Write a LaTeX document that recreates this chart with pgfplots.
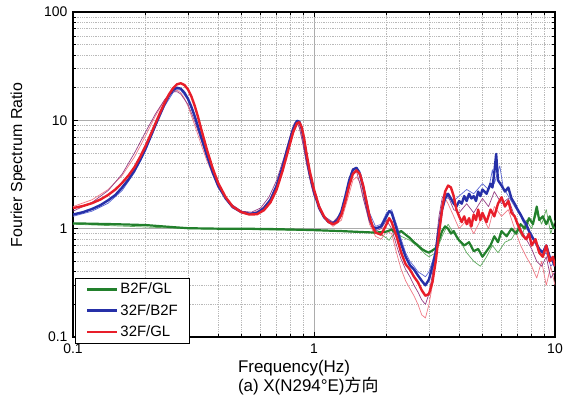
\documentclass[border=0pt]{standalone}
\usepackage{fontspec}
\setmainfont{Liberation Sans}
\newfontfamily\cjk{Noto Sans CJK SC}
\usepackage{pgfplots}
\pgfplotsset{compat=1.18}

\definecolor{cRed}{RGB}{232,30,42}
\definecolor{cBlue}{RGB}{38,48,168}
\definecolor{cGreen}{RGB}{34,128,44}
\definecolor{cPink}{RGB}{240,120,132}
\definecolor{cPurple}{RGB}{150,62,132}
\definecolor{cLBlue}{RGB}{92,104,212}
\definecolor{cLGreen}{RGB}{96,172,96}

\begin{document}
\begin{tikzpicture}
\useasboundingbox (0,0) rectangle (572bp,405bp);
\begin{axis}[
    at={(73bp,68bp)}, anchor=south west,
    scale only axis, width=482bp, height=325bp,
    xmode=log, ymode=log,
    xmin=0.1, xmax=10, ymin=0.1, ymax=100,
    xtick={0.1,1,10}, xticklabels={0.1,1,10},
    ytick={0.1,1,10,100}, yticklabels={0.1,1,10,100},
    minor xtick={0.2,0.3,0.4,0.5,0.6,0.7,0.8,0.9,2,3,4,5,6,7,8,9},
    minor ytick={0.2,0.3,0.4,0.5,0.6,0.7,0.8,0.9,2,3,4,5,6,7,8,9,20,30,40,50,60,70,80,90},
    tick align=inside,
    major tick length=5bp, minor tick length=3bp,
    tick style={black, line width=0.8bp},
    grid=both,
    major grid style={gray!65, line width=0.8bp},
    minor grid style={gray!55, line width=0.8bp, densely dotted},
    axis line style={black, line width=1.1bp},
    tick label style={font=\fontsize{14}{16}\selectfont},
    xticklabel style={yshift=-3bp},
    yticklabel style={xshift=-2bp},
    xlabel={Frequency(Hz)\\(a) X(N294°E){\cjk 方向}},
    xlabel style={at={(axis description cs:0.342,-0.071)}, anchor=north west,
        align=left, inner sep=0pt, font=\fontsize{17}{19.5}\selectfont},
    ylabel={Fourier Spectrum Ratio},
    ylabel style={at={(axis description cs:-0.114,0.529)}, anchor=center,
        font=\fontsize{16}{18}\selectfont},
    legend style={at={(rel axis cs:0.005,-0.02)}, anchor=south west,
        draw=black, line width=0.9bp, fill=white,
        font=\fontsize{15}{18}\selectfont,
        inner xsep=10bp, inner ysep=3bp, row sep=5bp},
    legend cell align=left,
    legend image code/.code={\draw[#1, line width=2.6bp] (0bp,0bp) -- (30bp,0bp);},
    every axis plot/.append style={line join=round},
]
% thin companion records
\addplot[cLGreen, line width=0.7bp, forget plot] coordinates {
(0.1,1.1)(0.3,1.0)(1.0,0.96)(1.5,0.93)(1.8,0.92)(1.9,0.88)(2.0,0.82)(2.05,0.78)(2.1,0.85)(2.2,0.93)
(2.3,0.85)(2.5,0.78)(2.7,0.68)(2.9,0.58)(3.0,0.55)(3.2,0.6)(3.4,0.85)(3.6,1.1)(3.8,0.9)(4.0,0.8)
(4.3,0.6)(4.6,0.5)(4.9,0.45)(5.2,0.55)(5.5,0.7)(5.8,0.6)(6.2,0.75)(6.6,0.8)(7.0,1.0)(7.3,0.85)
(7.6,1.2)(8.0,1.0)(8.4,1.4)(8.8,1.1)(9.2,1.5)(9.6,0.9)(10,1.2)};
\addplot[cLBlue, line width=0.7bp, forget plot] coordinates {
(0.1,1.3)(0.12,1.45)(0.14,1.72)(0.16,2.25)(0.18,3.3)(0.2,5.2)(0.22,8.7)(0.24,13.5)(0.26,18)(0.27,19.2)
(0.28,19)(0.3,15.5)(0.32,10.8)(0.34,7)(0.36,4.6)(0.4,2.4)(0.45,1.7)(0.5,1.45)(0.55,1.38)(0.6,1.45)
(0.65,1.75)(0.7,2.4)(0.75,3.9)(0.8,6.8)(0.83,9)(0.86,10)(0.88,9.3)(0.9,7.5)(0.93,5)(0.97,3)
(1.0,2.2)(1.1,1.3)(1.2,1.12)(1.3,1.4)(1.35,1.9)(1.4,2.7)(1.45,3.4)(1.5,3.7)(1.55,3.4)(1.6,2.6)
(1.7,1.4)(1.8,1.05)(1.9,1.1)(2.0,1.4)(2.1,1.5)(2.2,1.1)(2.3,0.8)(2.4,0.6)(2.5,0.5)(2.6,0.45)
(2.7,0.4)(2.8,0.38)(2.9,0.36)(3.0,0.4)(3.1,0.5)(3.2,0.65)(3.3,1.1)(3.4,1.7)(3.5,2.0)(3.6,1.9)
(3.8,1.8)(4.0,2.0)(4.3,2.3)(4.6,2.1)(5.0,2.6)(5.3,2.3)(5.5,3.5)(5.6,2.6)(5.9,3.8)(6.1,2.4)
(6.4,2.0)(6.8,1.6)(7.2,1.3)(7.6,1.0)(8.0,0.9)(8.4,0.7)(8.8,0.55)(9.2,0.6)(9.6,0.45)(10,0.5)};
\addplot[cPink, line width=0.7bp, forget plot] coordinates {
(0.1,1.6)(0.12,1.85)(0.14,2.3)(0.16,3.1)(0.18,4.6)(0.2,7.2)(0.22,11)(0.24,15.5)(0.25,17.5)(0.26,18.8)
(0.27,19)(0.28,18)(0.29,16)(0.30,13.5)(0.32,9)(0.34,6)(0.36,4.2)(0.4,2.4)(0.45,1.65)(0.5,1.4)
(0.55,1.38)(0.6,1.5)(0.65,1.8)(0.7,2.5)(0.75,4)(0.8,6.8)(0.83,8.8)(0.86,9.2)(0.88,8)(0.9,6.2)
(0.93,4.2)(0.97,2.8)(1.0,2.1)(1.1,1.25)(1.2,1.05)(1.3,1.2)(1.4,2.1)(1.45,2.8)(1.5,3.0)(1.55,2.7)
(1.6,2.0)(1.7,1.1)(1.8,0.85)(1.9,0.8)(2.0,0.95)(2.1,0.9)(2.2,0.6)(2.3,0.42)(2.4,0.33)(2.5,0.28)
(2.6,0.24)(2.7,0.2)(2.8,0.16)(2.9,0.15)(3.0,0.2)(3.1,0.3)(3.2,0.6)(3.3,1.1)(3.4,1.7)(3.5,1.9)
(3.6,1.7)(3.8,1.3)(4.0,1.0)(4.3,1.2)(4.6,0.9)(5.0,1.3)(5.3,1.0)(5.6,1.6)(6.0,1.3)(6.4,1.5)
(6.8,1.0)(7.2,0.7)(7.6,0.55)(8.0,0.45)(8.4,0.35)(8.8,0.5)(9.2,0.3)(9.6,0.45)(10,0.3)};
\addplot[cPurple, line width=0.7bp, forget plot] coordinates {
(0.1,1.45)(0.12,1.75)(0.14,2.25)(0.16,3.2)(0.18,5)(0.2,7.8)(0.22,11.5)(0.24,15.5)(0.25,17.2)(0.26,18.3)
(0.27,18.4)(0.28,17.5)(0.3,14)(0.32,9.8)(0.34,6.6)(0.36,4.5)(0.4,2.5)(0.45,1.7)(0.5,1.45)(0.55,1.42)
(0.6,1.55)(0.65,1.95)(0.7,2.8)(0.75,4.5)(0.8,7.5)(0.83,9.5)(0.85,9.6)(0.87,8.5)(0.9,6)(0.93,4)
(0.97,2.6)(1.0,2.0)(1.1,1.3)(1.2,1.15)(1.3,1.4)(1.35,2.0)(1.4,2.9)(1.45,3.6)(1.5,3.4)(1.55,2.6)
(1.6,1.9)(1.7,1.15)(1.8,0.95)(1.9,1.0)(2.0,1.2)(2.1,1.0)(2.2,0.7)(2.3,0.52)(2.4,0.42)(2.5,0.36)
(2.6,0.3)(2.7,0.26)(2.8,0.22)(2.9,0.2)(3.0,0.25)(3.1,0.38)(3.2,0.7)(3.3,1.3)(3.4,1.9)(3.5,2.2)
(3.6,2.0)(3.8,1.5)(4.0,1.4)(4.3,1.7)(4.6,1.4)(5.0,1.9)(5.3,1.6)(5.6,2.2)(6.0,1.7)(6.4,1.9)
(6.8,1.3)(7.2,1.0)(7.6,0.8)(8.0,0.65)(8.4,0.5)(8.8,0.45)(9.2,0.55)(9.6,0.35)(10,0.4)};
% B2F/GL
\addplot[cGreen, line width=2.2bp] coordinates {
(0.1,1.12)(0.15,1.1)(0.2,1.08)(0.25,1.04)(0.3,1.01)(0.4,1.0)(0.5,1.0)(0.7,0.99)(1.0,0.97)(1.3,0.95)
(1.6,0.93)(1.8,0.92)(2.0,0.94)(2.1,0.98)(2.2,0.9)(2.3,0.95)(2.4,0.88)(2.5,0.82)(2.6,0.75)(2.7,0.7)
(2.8,0.65)(2.9,0.62)(3.0,0.6)(3.1,0.63)(3.2,0.66)(3.3,0.78)(3.4,0.95)(3.5,1.05)(3.6,1.0)(3.7,0.9)
(3.8,0.95)(3.9,0.85)(4.0,0.78)(4.2,0.7)(4.4,0.75)(4.6,0.62)(4.8,0.65)(5.0,0.55)(5.2,0.62)(5.4,0.7)
(5.6,0.85)(5.8,0.75)(6.0,0.95)(6.3,0.85)(6.6,1.0)(6.9,0.9)(7.2,1.1)(7.5,1.0)(7.8,1.25)(8.1,1.1)
(8.4,1.6)(8.6,1.2)(8.9,1.3)(9.2,1.1)(9.5,1.3)(9.8,1.05)(10,1.0)};
\addlegendentry{B2F/GL}
% 32F/B2F
\addplot[cBlue, line width=2.4bp] coordinates {
(0.1,1.35)(0.11,1.42)(0.12,1.52)(0.13,1.65)(0.14,1.83)(0.15,2.05)(0.16,2.4)(0.17,2.85)(0.18,3.45)(0.19,4.3)
(0.20,5.5)(0.21,7.1)(0.22,9.1)(0.23,11.5)(0.24,14.2)(0.25,16.9)(0.26,19.0)(0.27,20.0)(0.28,19.6)(0.29,18.0)
(0.30,15.8)(0.31,13.3)(0.32,10.9)(0.33,8.8)(0.34,7.1)(0.36,4.7)(0.38,3.3)(0.40,2.5)(0.43,1.9)(0.46,1.58)
(0.50,1.42)(0.54,1.37)(0.58,1.4)(0.62,1.55)(0.66,1.85)(0.70,2.5)(0.74,3.7)(0.78,5.7)(0.82,8.4)(0.85,9.9)
(0.87,9.7)(0.89,8.3)(0.91,6.4)(0.93,4.7)(0.96,3.2)(1.0,2.2)(1.05,1.55)(1.1,1.28)(1.15,1.15)(1.2,1.12)
(1.25,1.2)(1.3,1.45)(1.35,2.0)(1.4,2.8)(1.45,3.5)(1.5,3.65)(1.55,3.2)(1.6,2.4)(1.65,1.7)(1.7,1.25)
(1.75,1.05)(1.8,1.0)(1.9,1.05)(2.0,1.3)(2.05,1.45)(2.1,1.4)(2.2,1.0)(2.3,0.72)(2.4,0.55)(2.5,0.46)
(2.6,0.42)(2.7,0.37)(2.8,0.33)(2.9,0.3)(3.0,0.34)(3.1,0.45)(3.2,0.6)(3.3,1.0)(3.4,1.5)(3.5,1.9)
(3.6,2.1)(3.7,1.9)(3.8,1.7)(3.9,1.6)(4.0,1.8)(4.1,1.7)(4.2,2.0)(4.3,1.8)(4.4,2.1)(4.5,1.9)
(4.6,2.0)(4.7,1.8)(4.8,2.2)(4.9,2.0)(5.0,2.3)(5.2,2.1)(5.4,2.6)(5.5,2.4)(5.6,3.3)(5.7,4.9)
(5.8,2.8)(6.0,2.5)(6.2,2.2)(6.4,2.4)(6.6,1.9)(6.8,1.7)(7.0,1.5)(7.2,1.35)(7.4,1.2)(7.6,1.1)
(7.8,0.95)(8.0,0.85)(8.3,0.75)(8.6,0.65)(8.9,0.6)(9.2,0.7)(9.5,0.55)(9.8,0.5)(10,0.45)};
\addlegendentry{32F/B2F}
% 32F/GL
\addplot[cRed, line width=2.4bp] coordinates {
(0.1,1.55)(0.11,1.62)(0.12,1.72)(0.13,1.86)(0.14,2.05)(0.15,2.3)(0.16,2.65)(0.17,3.1)(0.18,3.7)(0.19,4.6)
(0.20,5.8)(0.21,7.4)(0.22,9.4)(0.23,11.8)(0.24,14.5)(0.25,17.3)(0.26,19.8)(0.27,21.5)(0.28,22.0)(0.29,21.2)
(0.30,19.3)(0.31,16.6)(0.32,13.6)(0.33,10.8)(0.34,8.4)(0.36,5.3)(0.38,3.6)(0.40,2.65)(0.43,1.95)(0.46,1.6)
(0.50,1.42)(0.54,1.35)(0.58,1.36)(0.62,1.48)(0.66,1.75)(0.70,2.3)(0.74,3.4)(0.78,5.2)(0.82,7.8)(0.85,9.4)
(0.87,9.6)(0.89,8.6)(0.91,6.8)(0.93,5.0)(0.96,3.4)(1.0,2.3)(1.05,1.6)(1.1,1.3)(1.15,1.15)(1.2,1.1)
(1.25,1.15)(1.3,1.35)(1.35,1.8)(1.4,2.5)(1.45,3.2)(1.5,3.45)(1.55,3.2)(1.6,2.5)(1.65,1.8)(1.7,1.3)
(1.75,1.05)(1.8,0.92)(1.9,0.88)(2.0,1.1)(2.05,1.25)(2.1,1.15)(2.2,0.85)(2.3,0.6)(2.4,0.47)(2.5,0.42)
(2.6,0.36)(2.7,0.32)(2.8,0.27)(2.9,0.24)(3.0,0.25)(3.1,0.32)(3.2,0.5)(3.3,0.9)(3.4,1.5)(3.5,2.2)
(3.6,2.5)(3.7,2.4)(3.8,2.0)(3.9,1.5)(4.0,1.3)(4.1,1.15)(4.2,1.3)(4.3,1.1)(4.4,1.25)(4.5,1.05)
(4.6,1.35)(4.7,1.2)(4.8,1.5)(4.9,1.2)(5.0,1.4)(5.2,1.15)(5.4,1.5)(5.6,1.3)(5.8,1.7)(6.0,1.95)
(6.2,1.6)(6.4,1.8)(6.6,1.4)(6.8,1.3)(7.0,1.1)(7.2,0.95)(7.4,0.85)(7.6,0.8)(7.8,0.9)(8.0,0.7)
(8.3,0.8)(8.6,0.6)(8.9,0.55)(9.2,0.7)(9.5,0.5)(9.8,0.55)(10,0.45)};
\addlegendentry{32F/GL}
\end{axis}
\end{tikzpicture}
\end{document}
